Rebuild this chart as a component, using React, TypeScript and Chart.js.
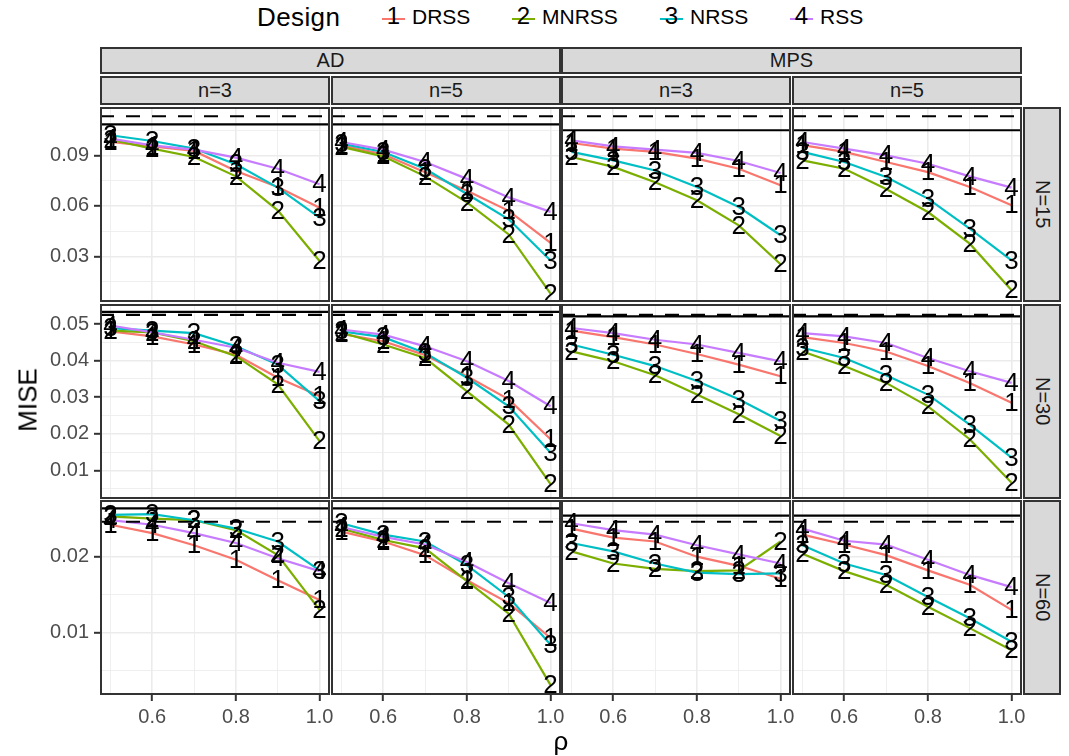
import React, { useEffect, useRef } from 'react';
import { Chart, registerables } from 'chart.js';
Chart.register(...registerables);

const FONT = '"Liberation Sans", Arial, Helvetica, sans-serif';

// ---------- data ----------
const DESIGNS = ['DRSS', 'MNRSS', 'NRSS', 'RSS'];
const DIGITS = ['1', '2', '3', '4'];
const COLORS = ['#F8766D', '#7CAE00', '#00BFC4', '#C77CFF'];
const RHO = [0.5, 0.6, 0.7, 0.8, 0.9, 1.0];
const METHODS = ['AD', 'MPS'];
const SIZES = ['n=3', 'n=5'];
const NS = ['N=15', 'N=30', 'N=60'];

// each panel: [DRSS, MNRSS, NRSS, RSS]
const AD_n3_N15 = [
  [0.0979, 0.0953, 0.0926, 0.0807, 0.0712, 0.0589],
  [0.0993, 0.094, 0.089, 0.0775, 0.0573, 0.0272],
  [0.1019, 0.0985, 0.094, 0.0847, 0.0708, 0.053],
  [0.0999, 0.0959, 0.0934, 0.0886, 0.082, 0.0728],
];
const AD_n5_N15 = [
  [0.0959, 0.0906, 0.08, 0.069, 0.057, 0.038],
  [0.095, 0.0894, 0.0775, 0.062, 0.043, 0.0078],
  [0.0969, 0.092, 0.082, 0.067, 0.052, 0.0275],
  [0.0979, 0.0934, 0.086, 0.076, 0.065, 0.0564],
];
const MPS_n3_N15 = [
  [0.0973, 0.094, 0.092, 0.088, 0.082, 0.0722],
  [0.089, 0.0831, 0.074, 0.0633, 0.0484, 0.0253],
  [0.092, 0.087, 0.081, 0.0712, 0.0593, 0.0425],
  [0.0989, 0.0953, 0.0934, 0.0914, 0.0866, 0.0795],
];
const MPS_n5_N15 = [
  [0.096, 0.092, 0.086, 0.08, 0.0712, 0.0603],
  [0.087, 0.082, 0.07, 0.0563, 0.0375, 0.0098],
  [0.092, 0.086, 0.0771, 0.0643, 0.0464, 0.0276],
  [0.0979, 0.094, 0.09, 0.085, 0.0775, 0.0708],
];
const AD_n3_N30 = [
  [0.048, 0.0466, 0.0444, 0.0416, 0.0353, 0.0303],
  [0.0482, 0.0477, 0.0453, 0.0412, 0.0335, 0.018],
  [0.0489, 0.0482, 0.0475, 0.0439, 0.0389, 0.0289],
  [0.0496, 0.0477, 0.0457, 0.0435, 0.0394, 0.0369],
];
const AD_n5_N30 = [
  [0.0473, 0.0453, 0.0415, 0.0357, 0.0294, 0.0185],
  [0.0476, 0.0444, 0.0407, 0.0316, 0.0225, 0.0062],
  [0.048, 0.0464, 0.0421, 0.0353, 0.0275, 0.0148],
  [0.0485, 0.0471, 0.0439, 0.0398, 0.0344, 0.0275],
];
const MPS_n3_N30 = [
  [0.0482, 0.0464, 0.0444, 0.0418, 0.0389, 0.0357],
  [0.0425, 0.0398, 0.036, 0.0307, 0.0253, 0.0194],
  [0.0444, 0.0416, 0.0385, 0.0344, 0.0294, 0.0235],
  [0.0489, 0.0475, 0.0457, 0.0444, 0.0421, 0.0398],
];
const MPS_n5_N30 = [
  [0.0464, 0.0448, 0.0425, 0.0385, 0.0339, 0.0285],
  [0.0425, 0.0385, 0.0339, 0.0275, 0.0185, 0.0066],
  [0.0435, 0.0407, 0.036, 0.0307, 0.0225, 0.0135],
  [0.0475, 0.0466, 0.0448, 0.0407, 0.0371, 0.0339],
];
const AD_n3_N60 = [
  [0.0242, 0.0231, 0.0215, 0.0196, 0.0169, 0.0143],
  [0.0253, 0.025, 0.0248, 0.0235, 0.0202, 0.013],
  [0.0255, 0.0256, 0.0248, 0.0237, 0.022, 0.0182],
  [0.0248, 0.0242, 0.0231, 0.0218, 0.0198, 0.0181],
];
const AD_n5_N60 = [
  [0.0233, 0.022, 0.0202, 0.0169, 0.0139, 0.0093],
  [0.0237, 0.0222, 0.0211, 0.0168, 0.0125, 0.0031],
  [0.0244, 0.0229, 0.022, 0.0189, 0.0147, 0.0084],
  [0.0239, 0.0226, 0.0216, 0.0193, 0.0165, 0.0139],
];
const MPS_n3_N60 = [
  [0.0237, 0.0225, 0.022, 0.02, 0.0188, 0.0171],
  [0.0207, 0.0191, 0.0184, 0.0181, 0.0182, 0.022],
  [0.0218, 0.0207, 0.0191, 0.0179, 0.0177, 0.0178],
  [0.0244, 0.0235, 0.0229, 0.0215, 0.0203, 0.0191],
];
const MPS_n5_N60 = [
  [0.0229, 0.0216, 0.0202, 0.0182, 0.0163, 0.013],
  [0.0204, 0.0181, 0.0163, 0.0134, 0.0106, 0.0077],
  [0.0215, 0.0191, 0.0176, 0.0147, 0.0119, 0.0088],
  [0.0237, 0.0221, 0.0216, 0.0196, 0.0176, 0.016],
];

// reference lines per N row
const DASHED_REF = [0.1132, 0.0525, 0.0246];
const SOLID_REF_AD = [0.1084, 0.0533, 0.02636];
const SOLID_REF_MPS = [0.1049, 0.0521, 0.0254];

// axes
const X_MIN = 0.475;
const X_MAX = 1.025;
const X_MAJOR = [0.6, 0.8, 1.0];
const X_MINOR = [0.5, 0.7, 0.9];
const Y_MIN = [0.00285, 0.00216, 0.0018];
const Y_MAX = [0.1187, 0.05547, 0.02746];
const Y_MAJOR = [
  [0.03, 0.06, 0.09],
  [0.01, 0.02, 0.03, 0.04, 0.05],
  [0.01, 0.02],
];
const Y_MINOR = [
  [0.015, 0.045, 0.075, 0.105],
  [0.005, 0.015, 0.025, 0.035, 0.045, 0.055],
  [0.005, 0.015, 0.025],
];

const PANEL_DATA = [
  [AD_n3_N15, AD_n5_N15, MPS_n3_N15, MPS_n5_N15],
  [AD_n3_N30, AD_n5_N30, MPS_n3_N30, MPS_n5_N30],
  [AD_n3_N60, AD_n5_N60, MPS_n3_N60, MPS_n5_N60],
];

// ---------- layout ----------
const COL_LEFT = [100, 331, 561, 792];
const PANEL_W = 230;
const ROW_TOP = [107, 304, 500];
const PANEL_H = 195;
const Y_AXIS_W = 61;
const X_AXIS_H = 34;
const X_OVERFLOW = 24;

const panelPlugin = {
  id: 'panelFrame',
  beforeDraw(chart: any) {
    const { ctx, chartArea: a } = chart;
    ctx.save();
    ctx.fillStyle = '#ffffff';
    ctx.fillRect(a.left, a.top, a.width, a.height);
    ctx.restore();
  },
  afterDatasetsDraw(chart: any) {
    const { ctx, chartArea: a } = chart;
    ctx.save();
    ctx.beginPath();
    ctx.rect(a.left, a.top, a.width, a.height);
    ctx.clip();
    ctx.font = `26px ${FONT}`;
    ctx.fillStyle = '#000000';
    ctx.textAlign = 'center';
    ctx.textBaseline = 'middle';
    const ds = chart.data.datasets;
    for (let i = ds.length - 1; i >= 0; i--) {
      if (!ds[i].digit) continue;
      const meta = chart.getDatasetMeta(i);
      meta.data.forEach((pt: any) => ctx.fillText(ds[i].digit, pt.x, pt.y + 1));
    }
    ctx.restore();
  },
  afterDraw(chart: any) {
    const { ctx, chartArea: a } = chart;
    ctx.save();
    ctx.strokeStyle = '#333333';
    ctx.lineWidth = 2;
    ctx.strokeRect(a.left + 1, a.top + 1, a.width - 2, a.height - 2);
    ctx.restore();
  },
};

function Panel({ row, col }: { row: number; col: number }) {
  const ref = useRef<HTMLCanvasElement>(null);
  const showY = col === 0;
  const showX = row === 2;
  const left = COL_LEFT[col] - (showY ? Y_AXIS_W : 0);
  const width = PANEL_W + (showY ? Y_AXIS_W : 0) + (showX ? X_OVERFLOW : 0);
  const height = PANEL_H + (showX ? X_AXIS_H : 0);

  useEffect(() => {
    const method = col < 2 ? 0 : 1;
    const series = PANEL_DATA[row][col];
    const datasets: any[] = [];
    const solid = method === 0 ? SOLID_REF_AD[row] : SOLID_REF_MPS[row];
    datasets.push({
      data: [{ x: X_MIN, y: DASHED_REF[row] }, { x: X_MAX, y: DASHED_REF[row] }],
      borderColor: '#000000', borderWidth: 2.2, borderDash: [14, 12], pointRadius: 0, clip: 0,
    });
    datasets.push({
      data: [{ x: X_MIN, y: solid }, { x: X_MAX, y: solid }],
      borderColor: '#000000', borderWidth: 2.2, pointRadius: 0, clip: 0,
    });
    for (let d = DESIGNS.length - 1; d >= 0; d--) {
      datasets.push({
        label: DESIGNS[d],
        digit: DIGITS[d],
        data: RHO.map((x, i) => ({ x, y: series[d][i] })),
        borderColor: COLORS[d],
        borderWidth: 2.2,
        pointRadius: 0,
        tension: 0,
        clip: 0,
      });
    }
    const xTicks = [...X_MINOR, ...X_MAJOR].sort((a, b) => a - b);
    const yTicks = [...Y_MINOR[row], ...Y_MAJOR[row]].sort((a, b) => a - b);
    const gridColor = (c: any) => '#EBEBEB';
    const gridWidth = (c: any) => (c.tick && c.tick.minor ? 0.8 : 1.6);
    const tickCol = (c: any) => (c.tick && c.tick.minor ? 'rgba(0,0,0,0)' : '#333333');
    const chart = new Chart(ref.current as HTMLCanvasElement, {
      type: 'line',
      data: { datasets },
      plugins: [panelPlugin],
      options: {
        animation: false,
        responsive: false,
        maintainAspectRatio: false,
        events: [],
        layout: { padding: { left: 0, top: 0, bottom: 0, right: showX ? X_OVERFLOW : 0 } },
        plugins: { legend: { display: false }, tooltip: { enabled: false } },
        scales: {
          x: {
            type: 'linear',
            min: X_MIN,
            max: X_MAX,
            afterBuildTicks: (s: any) => {
              s.ticks = xTicks.map((v) => ({ value: v, minor: !X_MAJOR.includes(v) }));
            },
            ticks: {
              display: showX,
              autoSkip: false,
              maxRotation: 0,
              padding: 4,
              color: '#4D4D4D',
              font: { family: FONT, size: 20 },
              callback: (v: any, i: number, t: any[]) => (t[i] && t[i].minor ? '' : Number(v).toFixed(1)),
            },
            grid: {
              color: gridColor,
              lineWidth: gridWidth,
              drawTicks: showX,
              tickLength: 6,
              tickColor: tickCol,
              tickWidth: 2,
            },
            border: { display: false },
            afterFit: (s: any) => {
              s.height = showX ? X_AXIS_H : 0;
              s.paddingLeft = 0;
              s.paddingRight = 0;
            },
          },
          y: {
            type: 'linear',
            min: Y_MIN[row],
            max: Y_MAX[row],
            afterBuildTicks: (s: any) => {
              s.ticks = yTicks.map((v) => ({ value: v, minor: !Y_MAJOR[row].includes(v) }));
            },
            ticks: {
              display: showY,
              autoSkip: false,
              padding: 5,
              color: '#4D4D4D',
              font: { family: FONT, size: 20 },
              callback: (v: any, i: number, t: any[]) => (t[i] && t[i].minor ? '' : Number(v).toFixed(2)),
            },
            grid: {
              color: gridColor,
              lineWidth: gridWidth,
              drawTicks: showY,
              tickLength: 6,
              tickColor: tickCol,
              tickWidth: 2,
            },
            border: { display: false },
            afterFit: (s: any) => {
              s.width = showY ? Y_AXIS_W : 0;
              s.paddingTop = 0;
              s.paddingBottom = 0;
            },
          },
        },
      } as any,
    });
    return () => chart.destroy();
  }, [row, col]);

  return (
    <canvas
      ref={ref}
      width={width}
      height={height}
      style={{ position: 'absolute', left, top: ROW_TOP[row], width, height, display: 'block' }}
    />
  );
}

const stripStyle: React.CSSProperties = {
  position: 'absolute',
  boxSizing: 'border-box',
  background: '#D9D9D9',
  border: '2px solid #333333',
  color: '#1A1A1A',
  font: `20px ${FONT}`,
  display: 'flex',
  alignItems: 'center',
  justifyContent: 'center',
};

function Legend() {
  const keyLefts = [382, 512, 660, 790];
  return (
    <>
      <div style={{ position: 'absolute', left: 257, top: 2, font: `26px ${FONT}`, color: '#000', lineHeight: '30px', letterSpacing: '0.4px' }}>
        Design
      </div>
      {DESIGNS.map((d, i) => (
        <div key={d} style={{ position: 'absolute', left: keyLefts[i], top: 2, height: 30, display: 'flex', alignItems: 'center' }}>
          <div style={{ position: 'relative', width: 23, height: 30 }}>
            <div style={{ position: 'absolute', left: 0, right: 0, top: 16, height: 2, background: COLORS[i] }} />
            <div
              style={{
                position: 'absolute', left: 0, right: 0, top: 0, height: 30, lineHeight: '32px',
                textAlign: 'center', font: `24px ${FONT}`, color: '#000',
              }}
            >
              {DIGITS[i]}
            </div>
          </div>
          <div style={{ marginLeft: 7, font: `21px ${FONT}`, color: '#000', lineHeight: '30px' }}>{d}</div>
        </div>
      ))}
    </>
  );
}

export default function App() {
  const cells: any[] = [];
  for (let r = 0; r < 3; r++) for (let c = 0; c < 4; c++) cells.push(<Panel key={`${r}-${c}`} row={r} col={c} />);
  return (
    <div style={{ position: 'absolute', left: 0, top: 0, width: 1069, height: 756, background: '#fff', overflow: 'hidden' }}>
      <Legend />
      {METHODS.map((m, i) => (
        <div key={m} style={{ ...stripStyle, left: COL_LEFT[i * 2], top: 47, width: COL_LEFT[i * 2 + 1] + PANEL_W - COL_LEFT[i * 2], height: 27 }}>
          {m}
        </div>
      ))}
      {COL_LEFT.map((l, i) => (
        <div key={i} style={{ ...stripStyle, left: l, top: 76, width: PANEL_W, height: 29 }}>
          {SIZES[i % 2]}
        </div>
      ))}
      {NS.map((n, i) => (
        <div key={n} style={{ ...stripStyle, left: 1023, top: ROW_TOP[i], width: 38, height: PANEL_H }}>
          <span style={{ writingMode: 'vertical-rl' }}>{n}</span>
        </div>
      ))}
      {cells}
      <div
        style={{
          position: 'absolute', left: 28, top: 400, transform: 'translate(-50%, -50%) rotate(-90deg)',
          font: `26px ${FONT}`, color: '#000', whiteSpace: 'nowrap',
        }}
      >
        MISE
      </div>
      <div
        style={{
          position: 'absolute', left: 561, top: 741, transform: 'translate(-50%, -50%)',
          font: `26px ${FONT}`, color: '#000',
        }}
      >
        ρ
      </div>
    </div>
  );
}
